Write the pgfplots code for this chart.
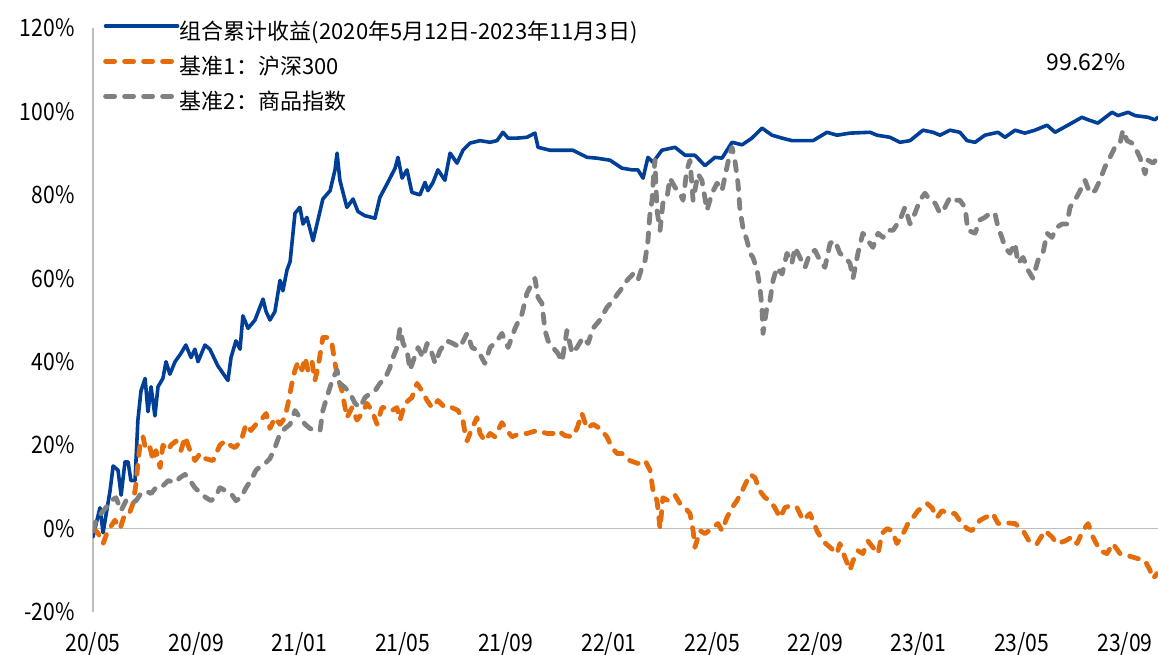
\documentclass[border=0pt]{standalone}
\usepackage{fontspec}
\setmainfont{Noto Sans CJK SC}
\newfontfamily\tickfont{Noto Sans CJK SC}[FakeStretch=0.88]
\usepackage{pgfplots}
\pgfplotsset{compat=1.18}
\usepackage{pgfplotstable}
\definecolor{cblue}{RGB}{0,63,152}
\definecolor{corange}{RGB}{228,108,10}
\definecolor{cgray}{RGB}{128,128,128}
\definecolor{caxis}{RGB}{190,190,190}

% x = months since 2020/05 (tick 20/05 = 0), y = cumulative return in %
\pgfplotstableread{
x y
0 -2
0.27 5
0.39 -1
0.66 9
0.78 15
0.97 14
1.09 8
1.24 16
1.36 16
1.47 11.5
1.63 11.5
1.74 26
1.86 33
2.02 36
2.13 28
2.25 34
2.40 27
2.52 34
2.71 36
2.83 40
2.98 37
3.18 40
3.41 42
3.60 44
3.80 41
3.95 43
4.07 40
4.34 44
4.53 43
4.84 39
5.23 35.5
5.35 41
5.54 45
5.70 43
5.81 51
6.01 48
6.28 50
6.59 55
6.71 52
6.86 50
7.05 52
7.25 59.5
7.36 57
7.52 62
7.64 64
7.83 75.6
8.02 77
8.14 73
8.29 74.6
8.53 69
8.72 74
8.91 79
9.19 81
9.38 86
9.46 90
9.57 83.5
9.84 77
10.08 79
10.27 76
10.54 75
10.93 74.4
11.12 79.4
11.43 83
11.71 86.4
11.82 89
11.98 84
12.17 86
12.36 80.6
12.67 80
12.87 83
12.98 81
13.18 83
13.37 86
13.64 83.5
13.84 90
14.11 87.6
14.34 90.7
14.61 92.4
15.00 93
15.39 92.6
15.66 93
15.89 95
16.09 93.6
16.43 93.6
16.82 93.8
17.13 94.8
17.25 91.4
17.71 90.7
18.10 90.7
18.60 90.7
19.15 89
19.53 88.8
20.04 88.3
20.50 86.4
20.89 86
21.12 86
21.32 84
21.51 89
21.71 87.8
22.05 90.7
22.56 91.4
22.95 89.5
23.33 89.5
23.72 87
24.11 89
24.38 88.8
24.77 92.6
25.16 92
25.54 93.6
25.93 96
26.32 94.3
26.71 93.6
27.09 93
27.52 93
27.91 93
28.45 95
28.84 94.3
29.34 94.8
30.12 95
30.39 94.3
30.89 93.8
31.28 92.6
31.67 93
32.17 95.5
32.56 95
32.83 94.3
33.22 95.5
33.60 95
33.88 93
34.19 92.6
34.57 94.3
35.08 95
35.35 93.8
35.74 95.5
36.12 94.8
36.51 95.5
36.98 96.7
37.29 95
37.79 96.7
38.33 98.6
38.57 98
38.95 97.2
39.50 99.8
39.73 99
40.12 99.8
40.39 99
40.89 98.6
41.16 98
41.28 98.6
}\portfolio

\pgfplotstableread{
x y
0 0
0.19 -1
0.39 -3.6
0.58 -0.5
0.85 2
1.05 0
1.24 3.6
1.43 4
1.55 6
1.67 10.8
1.74 15.6
1.82 20
1.94 22
2.05 18.7
2.21 19.4
2.33 16.3
2.44 18.7
2.60 14.6
2.71 20
2.91 18.7
3.02 20
3.22 21
3.41 18.7
3.57 22
3.76 18.7
3.95 16.3
4.15 18
4.34 16.8
4.65 16.3
4.92 20
5.12 21
5.31 20
5.50 19.4
5.74 21
5.93 25
6.12 23.5
6.32 25
6.51 26
6.71 27.6
6.86 24
7.05 26.6
7.25 25
7.44 26.6
7.56 30
7.71 34.8
7.83 38
7.95 40
8.10 38
8.22 41
8.33 38
8.49 40
8.60 35.5
8.72 38.6
8.91 45.8
9.11 45.8
9.26 44.4
9.38 39.6
9.50 36
9.65 33
9.77 29
9.84 26.6
10.04 29
10.23 26
10.43 27.6
10.62 30
10.81 28.3
11.01 25
11.20 29
11.40 29
11.59 28.3
11.78 29
11.90 26
12.09 30
12.36 31.4
12.56 34.8
12.75 33
12.95 30.7
13.14 29
13.37 30.7
13.64 29
13.91 29
14.15 28.3
14.34 26
14.42 22.8
14.50 21
14.69 24
14.88 26.6
15.00 22.8
15.19 21
15.39 22.8
15.58 22
15.85 25.4
16.05 23.5
16.24 22
16.55 22.8
16.82 22.8
17.21 23.5
17.60 22.8
17.83 22.8
18.02 23.5
18.29 22.3
18.57 22
18.76 24
18.95 27.6
19.15 24
19.38 25
19.65 24
19.92 22
20.12 19.4
20.31 18
20.50 18
20.81 16.3
21.12 15.6
21.40 16.3
21.59 14
21.71 9
21.86 6.7
21.98 0
22.09 7.4
22.29 6.7
22.56 8
22.75 6
22.95 5
23.14 3.6
23.26 -0.5
23.33 -4.5
23.53 -0.5
23.72 -1.2
23.99 0
24.22 1.2
24.38 -0.5
24.57 2.6
24.77 5
24.96 6.7
25.16 9
25.35 11.5
25.47 13
25.66 12.2
25.85 9
26.05 7.4
26.24 6.7
26.43 5
26.63 2.6
26.82 5
27.02 5.5
27.29 5
27.52 2
27.79 3.6
28.06 -0.5
28.29 -3
28.57 -4.5
28.84 -6
28.95 -3.6
29.15 -7
29.34 -10
29.46 -7.7
29.65 -5.3
29.84 -6
30.04 -3
30.23 -4.5
30.43 -6
30.58 -1.2
30.78 0
30.97 -0.5
31.16 -3.6
31.40 -1.2
31.59 1.2
31.78 2.6
31.98 4.3
32.33 6
32.52 5
32.71 2.6
32.91 4.3
33.14 3.6
33.41 3.6
33.68 1.2
33.88 0
34.07 -0.5
34.38 2
34.57 2.6
34.88 3.6
35.08 1.2
35.35 1.4
35.74 1.2
36.05 -0.5
36.32 -3.4
36.59 -3.6
36.90 -0.5
37.17 -2
37.36 -3.6
37.67 -3
37.95 -2
38.14 -3.6
38.37 -0.5
38.57 1.2
38.76 -2
39.03 -5.3
39.30 -6
39.53 -3.6
39.81 -6
40.12 -6.5
40.39 -7
40.78 -7.7
40.97 -10
41.09 -12
41.24 -10.8
}\hsthree

\pgfplotstableread{
x y
0 -0.5
0.12 2
0.31 3.6
0.50 5
0.70 6.7
0.89 7.4
1.09 4.3
1.28 6.7
1.47 6
1.67 6.7
1.86 8.4
2.05 9
2.25 8.4
2.44 9.8
2.64 9.8
2.91 11.5
3.18 11
3.37 12.2
3.57 13
3.76 11.5
3.95 9.8
4.19 8.4
4.38 7.4
4.57 6.7
4.73 7.4
4.92 9.8
5.16 9
5.35 8.4
5.54 6.7
5.74 7.4
5.93 9.8
6.12 11.5
6.32 14
6.51 15
6.67 15.6
6.86 16.8
7.05 19.4
7.25 22.8
7.44 24
7.64 25
7.83 28.3
8.02 26.6
8.22 25
8.41 24
8.60 23.5
8.80 23.5
8.91 28.3
9.11 32.4
9.30 36
9.46 38
9.57 34.8
9.77 33.8
9.96 32.4
10.16 30
10.35 29
10.54 31.4
10.74 32.4
10.93 33
11.12 34.8
11.32 36
11.51 38.6
11.63 41
11.78 43.4
11.90 48
12.02 44.4
12.17 42.7
12.29 38
12.40 40
12.60 43.4
12.79 41
12.95 44.4
13.14 42
13.26 39.6
13.45 42.7
13.72 45
13.95 44.4
14.22 43.4
14.50 46.8
14.69 43.4
14.92 42.7
15.19 39.6
15.39 43.4
15.66 45
15.85 46.8
16.09 43.4
16.36 48
16.63 51.5
16.82 56.4
17.02 58.8
17.13 60
17.25 55.4
17.40 54
17.52 47.5
17.64 45
17.83 43.4
18.02 42
18.18 40
18.37 47.5
18.57 42
18.76 43.4
18.99 45.8
19.19 44.4
19.38 48
19.65 50
19.92 53
20.16 54.7
20.35 56.4
20.43 57
20.70 59.5
20.93 61
21.12 59.5
21.28 62.6
21.40 64.3
21.51 69
21.59 75.6
21.67 78.7
21.71 82.8
21.78 88.3
21.86 76.3
21.98 71.5
22.09 78
22.25 79.4
22.36 84
22.56 81.8
22.75 80.4
22.87 78.7
23.02 86
23.14 88.3
23.26 78.7
23.45 85
23.60 83.5
23.80 76.3
23.99 80.4
24.19 82.8
24.38 81
24.57 86.6
24.69 90
24.77 91.4
24.88 88.3
25.00 82.8
25.08 76.3
25.19 72.2
25.35 69
25.47 66
25.58 65
25.74 62
25.85 57.8
25.93 53
25.97 46.8
26.12 53
26.24 54.7
26.36 59.5
26.51 62.6
26.71 61
26.90 66
27.09 63.6
27.21 67.4
27.40 65
27.60 62.6
27.79 66
27.98 66.7
28.18 64.3
28.37 62.6
28.57 68.4
28.76 69
28.95 66
29.15 65
29.34 63.6
29.46 60
29.65 66
29.84 70.8
30.04 69
30.23 67.4
30.43 70.8
30.62 69.8
30.81 71.5
31.01 71.5
31.28 74
31.47 77
31.67 73
31.86 75.6
32.05 78.7
32.25 80.4
32.44 78.7
32.64 78
32.83 75.6
33.02 77
33.22 79.4
33.41 78.7
33.60 78.7
33.80 77
33.91 71.5
34.19 70.8
34.38 74
34.57 74.6
34.77 75.6
34.96 75.6
35.08 72.2
35.23 69.8
35.35 67.4
35.54 66
35.74 68.4
35.85 63.6
36.05 65
36.24 62
36.43 60
36.63 64.3
36.82 66
36.98 70.8
37.17 69.8
37.36 72.2
37.56 73
37.75 73
37.87 77
38.06 78.7
38.26 81
38.45 83.5
38.64 80.4
38.84 81
39.03 83.5
39.22 86.6
39.42 89
39.61 91.4
39.81 92.4
39.92 95.5
40.08 93
40.27 92.4
40.39 91.4
40.58 89
40.78 85
40.89 88.3
41.09 87.6
41.28 89
}\commodity

\begin{document}
\begin{tikzpicture}
\begin{axis}[
  scale only axis,
  width=1065bp, height=584bp,
  xmin=0, xmax=41.28,
  ymin=-20, ymax=120,
  axis x line=bottom, axis y line=left,
  x axis line style={draw=none},
  y axis line style={draw=caxis, line width=1.5bp, -},
  major tick length=0pt,
  xtick={0,4,...,40},
  xticklabels={20/05,20/09,21/01,21/05,21/09,22/01,22/05,22/09,23/01,23/05,23/09},
  ytick={-20,0,...,120},
  yticklabel={\pgfmathprintnumber{\tick}\%},
  /pgf/number format/assume math mode=true,
  tick label style={font=\tickfont\fontsize{24bp}{28bp}\selectfont, text=black},
  yticklabel style={xshift=-15bp},
  xticklabel style={yshift=-17bp},
  extra y ticks={0},
  extra y tick labels={},
  extra y tick style={grid=major, major grid style={draw=caxis, line width=1.5bp}},
  legend cell align=left,
  legend style={at={(rel axis cs:0,1)}, anchor=north west, xshift=10bp, yshift=6bp,
    draw=none, fill=none, inner sep=0pt, row sep=13bp,
    font=\fontsize{22bp}{26bp}\selectfont,
    nodes={inner sep=0pt, text height=17bp, text depth=5bp, xshift=5bp}},
  legend image code/.code={\draw[#1] (0bp,7bp) -- (72bp,7bp);},
]
\addplot[cblue, line width=3.6bp, line join=round, line cap=round] table[x=x,y=y]{\portfolio};
\addlegendentry{组合累计收益(2020年5月12日-2023年11月3日)}
\addplot[corange, line width=4.8bp, line cap=round, line join=round, dash pattern=on 9bp off 10bp] table[x=x,y=y]{\hsthree};
\addlegendentry{基准1：沪深300}
\addplot[cgray, line width=4.8bp, line cap=round, line join=round, dash pattern=on 9bp off 10bp] table[x=x,y=y]{\commodity};
\addlegendentry{基准2：商品指数}
\node[font=\fontsize{23bp}{27bp}\selectfont, text=black] at (axis cs:38.49,111.8) {99.62\%};
\end{axis}
\pgfresetboundingbox
\useasboundingbox (-93bp,-43bp) rectangle (1065bp,612bp);
\end{tikzpicture}
\end{document}
